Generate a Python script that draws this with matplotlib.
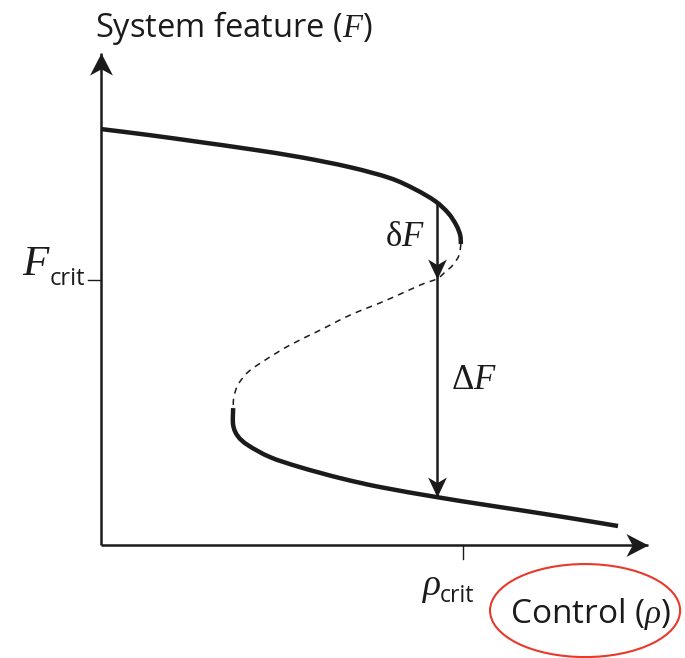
import numpy as np
import matplotlib
matplotlib.use("Agg")
import matplotlib.pyplot as plt
from matplotlib.path import Path
from matplotlib.patches import Ellipse, PathPatch

plt.rcParams["font.family"] = ["Open Sans", "DejaVu Sans"]
plt.rcParams["mathtext.fontset"] = "custom"
plt.rcParams["mathtext.rm"] = "Liberation Serif"
plt.rcParams["mathtext.it"] = "Liberation Serif:italic"
plt.rcParams["mathtext.bf"] = "Liberation Serif:bold"
plt.rcParams["mathtext.sf"] = "Open Sans"

# Fold (S-shaped) response curve: control rho vs. system feature F,
# in units where rho_crit = 1 and F_crit = 1.
upper_rho = [0.0, 0.135, 0.273, 0.412, 0.550, 0.688, 0.798, 0.867, 0.923, 0.959, 0.981, 0.992, 0.994]
upper_F = [1.570, 1.547, 1.521, 1.494, 1.464, 1.426, 1.385, 1.343, 1.298, 1.253, 1.208, 1.170, 1.136]

middle_rho = [0.994, 0.989, 0.972, 0.950, 0.928, 0.881, 0.790, 0.688, 0.605, 0.522, 0.453, 0.406, 0.378, 0.367, 0.365]
middle_F = [1.136, 1.094, 1.057, 1.030, 1.005, 0.981, 0.925, 0.868, 0.811, 0.755, 0.698, 0.653, 0.604, 0.558, 0.521]

lower_rho = [0.365, 0.365, 0.378, 0.406, 0.467, 0.550, 0.660, 0.771, 0.928, 1.047, 1.157, 1.296, 1.428]
lower_F = [0.517, 0.453, 0.411, 0.377, 0.332, 0.294, 0.253, 0.219, 0.181, 0.155, 0.132, 0.102, 0.072]

rho_jump = 0.928      # where the system drops to the lower branch
rho_crit = 1.0
F_crit = 1.0
rho_axis_end = 1.511
F_axis_end = 1.857

INK = "#1c1a1b"


def stealth(angle_deg, half_width):
    """Arrowhead marker with concave back, tip at the origin."""
    verts = np.array([[0, 0], [-half_width, -1], [0, -0.72], [half_width, -1], [0, 0]])
    a = np.deg2rad(angle_deg)
    rot = np.array([[np.cos(a), -np.sin(a)], [np.sin(a), np.cos(a)]])
    verts = verts @ rot.T
    codes = [Path.MOVETO, Path.LINETO, Path.LINETO, Path.LINETO, Path.CLOSEPOLY]
    return Path(verts, codes)


def smooth_path(xs, ys):
    """Cubic Bezier path passing through the given points (Catmull-Rom handles)."""
    p = np.column_stack([xs, ys]).astype(float)
    ext = np.vstack([p[0], p, p[-1]])
    verts = [p[0]]
    codes = [Path.MOVETO]
    for i in range(len(p) - 1):
        p0, p1, p2, p3 = ext[i], ext[i + 1], ext[i + 2], ext[i + 3]
        verts += [p1 + (p2 - p0) / 6.0, p2 - (p3 - p1) / 6.0, p2]
        codes += [Path.CURVE4] * 3
    return Path(np.array(verts), codes)


fig = plt.figure(figsize=(6.85, 6.58), dpi=100)
ax = fig.add_axes([0, 0, 1, 1])
ax.set_xlim(-0.279, 1.613)
ax.set_ylim(-0.426, 2.057)
ax.axis("off")

# axes with arrowheads
ax.plot([0, 0], [0, F_axis_end], color=INK, lw=1.8, solid_capstyle="butt")
ax.plot([0, rho_axis_end], [0, 0], color=INK, lw=1.8, solid_capstyle="butt")
ax.plot([0], [F_axis_end], marker=stealth(0, 0.52), ms=31.7, color=INK, mew=0)
ax.plot([rho_axis_end], [0], marker=stealth(-90, 0.52), ms=31.7, color=INK, mew=0)

# critical ticks
ax.plot([-0.036, 0], [F_crit, F_crit], color=INK, lw=1.0)
ax.plot([rho_crit, rho_crit], [0, -0.053], color=INK, lw=1.0)

# response curve
ax.add_patch(PathPatch(smooth_path(upper_rho, upper_F), fill=False, edgecolor=INK,
                       lw=3.2, capstyle="butt", joinstyle="round"))
ax.add_patch(PathPatch(smooth_path(middle_rho, middle_F), fill=False, edgecolor=INK,
                       lw=1.1, linestyle=(0, (4, 3.5))))
ax.add_patch(PathPatch(smooth_path(lower_rho, lower_F), fill=False, edgecolor=INK,
                       lw=3.2, capstyle="butt", joinstyle="round"))

# jump from the upper to the lower branch
F_top = np.interp(rho_jump, upper_rho, upper_F)
F_mid = np.interp(rho_jump, middle_rho[::-1], middle_F[::-1])
F_low = np.interp(rho_jump, lower_rho[1:], lower_F[1:])
ax.plot([rho_jump, rho_jump], [F_top, F_low], color=INK, lw=1.8, solid_capstyle="butt")
ax.plot([rho_jump], [F_mid], marker=stealth(180, 0.47), ms=28.8, color=INK, mew=0)
ax.plot([rho_jump], [F_low], marker=stealth(180, 0.47), ms=28.8, color=INK, mew=0)

# labels
ax.text(-0.0166, 1.917, "System feature ($F$)", fontsize=23.5, color=INK, ha="left", va="baseline")
ax.text(-0.218, 1.019, "$F$", fontsize=31, color=INK, ha="left", va="baseline")
ax.text(-0.141, 0.981, "crit", fontsize=17, color=INK, ha="left", va="baseline")
ax.text(0.887, -0.189, r"$\rho$", fontsize=27, color=INK, ha="left", va="baseline")
ax.text(0.936, -0.215, "crit", fontsize=16.5, color=INK, ha="left", va="baseline")
ax.text(0.785, 1.128, r"$\mathrm{\delta}F$", fontsize=25, color=INK, ha="left", va="baseline")
ax.text(0.966, 0.589, r"$\Delta F$", fontsize=25, color=INK, ha="left", va="baseline")
ax.text(1.130, -0.294, r"Control ($\rho$)", fontsize=24, color=INK, ha="left", va="baseline")

ax.add_patch(Ellipse((1.337, -0.247), 0.525, 0.351, fill=False, edgecolor="#e8392b", lw=1.5))

fig.savefig("out.png", dpi=100)
